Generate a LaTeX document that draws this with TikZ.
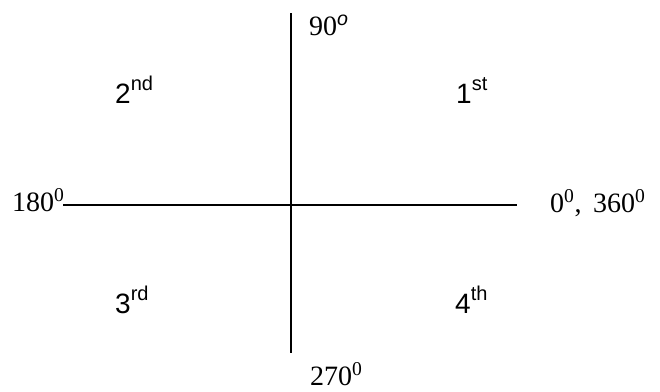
\documentclass[tikz,border=0pt]{standalone}
\usepackage{fontspec}
\setmainfont{Liberation Serif}
\setsansfont{Liberation Sans}
\newcommand{\ordsup}[1]{\raisebox{13pt}{\fontsize{20}{20}\selectfont #1}}
\tikzset{
    angle/.style={anchor=base west, inner sep=0pt, font=\fontsize{28}{30}\selectfont},
    quadrant/.style={anchor=base west, inner sep=0pt, font=\sffamily\fontsize{28}{30}\selectfont},
    axis/.style={line width=1.3pt}
}
\begin{document}
\begin{tikzpicture}[x=1pt, y=-1pt]

            \useasboundingbox (0, 0) rectangle (660, 391);

            \coordinate (left) at (63, 205);
            \coordinate (right) at (517, 205);
            \coordinate (top) at (291, 13);
            \coordinate (bottom) at (291, 353);

            \node (a-0) at (550, 212) [angle] {0\textsuperscript{0}, \,360\textsuperscript{0}};
            \node (a-90) at (309, 35) [angle] {90\textsuperscript{\sffamily\itshape o}};
            \node (a-180) at (12, 211) [angle] {180\textsuperscript{0}};
            \node (a-270) at (310, 385) [angle] {270\textsuperscript{0}};

            \node (q-1) at (456, 103) [quadrant] {1\ordsup{st}};
            \node (q-2) at (115, 103) [quadrant] {2\ordsup{nd}};
            \node (q-3) at (115, 313) [quadrant] {3\ordsup{rd}};
            \node (q-4) at (455, 313) [quadrant] {4\ordsup{th}};

            \draw[axis] (left) -- (right);
            \draw[axis] (top) -- (bottom);

        \end{tikzpicture}
\end{document}
